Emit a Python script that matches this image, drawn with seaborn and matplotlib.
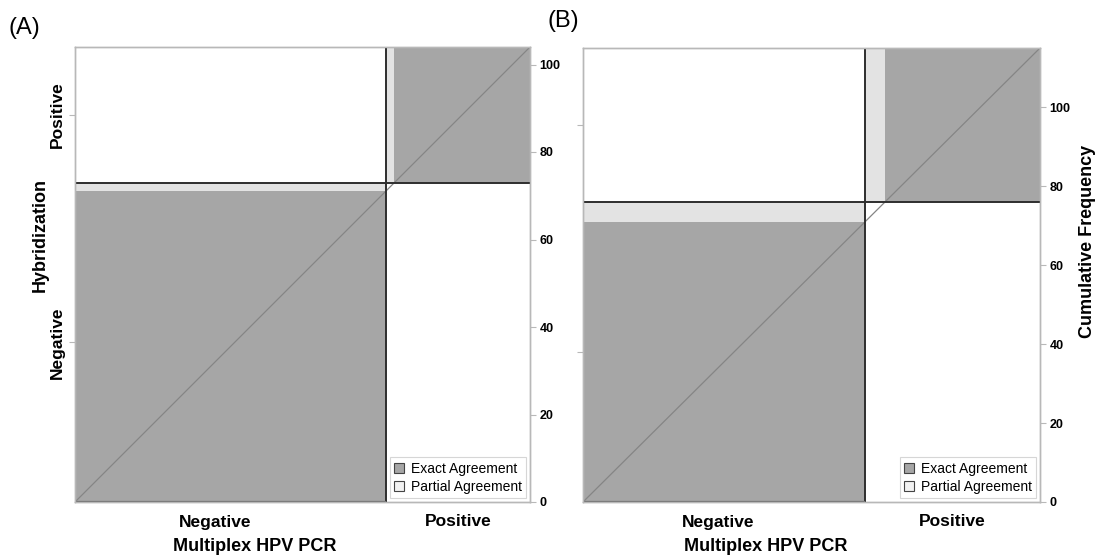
import numpy as np
import seaborn as sns
import matplotlib
matplotlib.use('Agg')
import matplotlib.pyplot as plt
from matplotlib.patches import Patch

# 2x2 tables, rows = Hybridization, cols = Multiplex HPV PCR
categories = ['Negative', 'Positive']
table_a = [[71, 2],
           [0, 31]]
table_b = [[71, 5],
           [0, 39]]
freq_ticks = [0, 20, 40, 60, 80, 100]
# x tick positions (not quite the column centres)
xticks_a = [32, 87.5]
xticks_b = [34, 93]

DARK = '#a6a6a6'
LIGHT = '#e3e3e3'
LINE = '#2e2e2e'
FRAME = '#b8b8b8'

sns.set_style('white')
plt.rcParams['font.family'] = ['Liberation Sans', 'DejaVu Sans']
plt.rcParams['text.color'] = 'black'
plt.rcParams['axes.labelcolor'] = 'black'


def agree_plot(ax, table, xticks, show_ylabels, show_rlabel):
    n = np.array(table)
    N = n.sum()
    col = n.sum(axis=0)
    row = n.sum(axis=1)
    X = np.concatenate([[0], np.cumsum(col)])
    Y = np.concatenate([[0], np.cumsum(row)])
    k = len(categories)

    for i in range(k):
        # partial agreement rectangle, then exact agreement square
        ax.bar(X[i], row[i], width=col[i], bottom=Y[i], align='edge',
               color=LIGHT, linewidth=0, zorder=1)
        dx = X[i] + n[:i, i].sum()
        dy = Y[i] + n[i, :i].sum()
        ax.bar(dx, n[i, i], width=n[i, i], bottom=dy, align='edge',
               color=DARK, linewidth=0, zorder=2)

    for i in range(1, k):
        ax.vlines(X[i], 0, N, color=LINE, lw=1.4, zorder=4)
        ax.hlines(Y[i], 0, N, color=LINE, lw=1.4, zorder=4)
    ax.hlines(0, 0, X[1], color='#6e6e6e', lw=1.6, zorder=4)

    sns.lineplot(x=[0, N], y=[0, N], ax=ax, color='#858585', lw=0.9, zorder=3)

    ax.set_xlim(0, N)
    ax.set_ylim(0, N)
    ax.set_xticks(xticks)
    ax.set_xticklabels(categories, fontsize=12.5, fontweight='bold')
    ax.set_yticks((Y[:-1] + Y[1:]) / 2)
    if show_ylabels:
        ax.set_yticklabels(categories, fontsize=12.5, fontweight='bold',
                           rotation=90, va='center')
        ax.set_ylabel('Hybridization', fontsize=13, fontweight='bold')
        ax.yaxis.set_label_coords(-0.058, 0.587)
    else:
        ax.set_yticklabels([])
    ax.set_xlabel('Multiplex HPV PCR', fontsize=13, fontweight='bold')
    ax.xaxis.set_label_coords(0.395 if show_ylabels else 0.40, -0.079)
    ax.tick_params(axis='both', length=4, width=0.8, color=FRAME, pad=3,
                   labelcolor='black')
    ax.tick_params(axis='x', pad=5)
    for s in ax.spines.values():
        s.set_color(FRAME)
        s.set_linewidth(1.0)

    tw = ax.twinx()
    tw.set_ylim(0, N)
    tw.set_yticks(freq_ticks)
    tw.set_yticklabels([str(t) for t in freq_ticks], fontsize=9, fontweight='bold')
    tw.tick_params(axis='y', length=4, width=0.8, color=FRAME, pad=3,
                   labelcolor='black')
    for s in tw.spines.values():
        s.set_color(FRAME)
        s.set_linewidth(1.0)
    if show_rlabel:
        tw.set_ylabel('Cumulative Frequency', fontsize=13, fontweight='bold')
        tw.yaxis.set_label_coords(1.085, 0.573)

    handles = [Patch(facecolor=DARK, edgecolor='#444444', lw=0.8, label='Exact Agreement'),
               Patch(facecolor='#f2f2f2', edgecolor='#444444', lw=0.8, label='Partial Agreement')]
    leg = tw.legend(handles=handles, loc='lower right', fontsize=10, frameon=True,
                    fancybox=False, handlelength=0.75, handleheight=0.75,
                    handletextpad=0.45, borderpad=0.3, labelspacing=0.3,
                    borderaxespad=0.3)
    leg.get_frame().set_edgecolor('#cccccc')
    leg.get_frame().set_linewidth(0.8)


fig = plt.figure(figsize=(11.01, 5.59), dpi=100)
ax_a = fig.add_axes([75 / 1101, 1 - 502 / 559, 455 / 1101, 455 / 559])
ax_b = fig.add_axes([583 / 1101, 1 - 502 / 559, 457 / 1101, 454 / 559])

agree_plot(ax_a, table_a, xticks_a, True, False)
agree_plot(ax_b, table_b, xticks_b, False, True)

fig.text(0.008, 0.95, '(A)', fontsize=17, va='center')
fig.text(0.497, 0.962, '(B)', fontsize=17, va='center')

fig.savefig('out.png', dpi=100)
